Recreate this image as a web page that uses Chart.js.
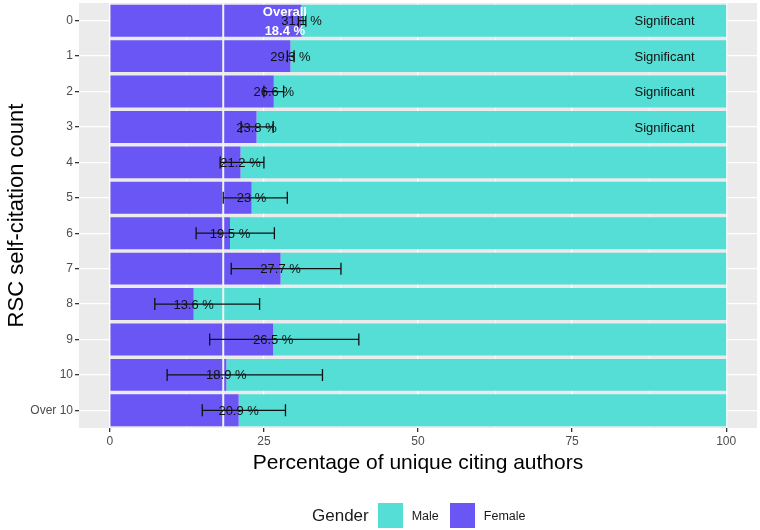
<!DOCTYPE html>
<html>
<head>
<meta charset="utf-8">
<script src="https://cdn.jsdelivr.net/npm/chart.js@4"></script>
<style>
  body { margin: 0; background: #fff; font-family: "Liberation Sans", Arial, sans-serif; }
  #wrap { position: relative; width: 760px; height: 530px; }
  #legend { position: absolute; left: 312px; top: 503px; display: flex; align-items: center; color: #1a1a1a; }
  #legend .ttl { font-size: 17px; margin-right: 9px; }
  #legend .sw { width: 25px; height: 25px; margin-right: 9px; }
  #legend .lb { font-size: 12.5px; margin-right: 11px; }
</style>
</head>
<body>
<div id="wrap">
  <canvas id="chart" width="760" height="530"></canvas>
  <div id="legend"></div>
</div>
<script>
// categories (RSC self-citation count)
const categories = ['0', '1', '2', '3', '4', '5', '6', '7', '8', '9', '10', 'Over 10'];
// % female among unique citing authors
const femalePct = [31.1, 29.3, 26.6, 23.8, 21.2, 23, 19.5, 27.7, 13.6, 26.5, 18.9, 20.9];
// % male among unique citing authors
const malePct = [68.9, 70.7, 73.4, 76.2, 78.8, 77, 80.5, 72.3, 86.4, 73.5, 81.1, 79.1];
// confidence interval for female share
const ciLow = [30.6, 28.8, 25.0, 21.3, 17.9, 18.4, 14.0, 19.7, 7.3, 16.2, 9.3, 15.0];
const ciHigh = [31.8, 29.9, 28.2, 26.5, 25.0, 28.8, 26.7, 37.5, 24.3, 40.4, 34.5, 28.5];
const significance = ['Significant', 'Significant', 'Significant', 'Significant', '', '', '', '', '', '', '', ''];
const overallFemale = 18.4;
const xTicks = [0, 25, 50, 75, 100];

const femaleColor = '#6a56f4';
const maleColor = '#55ded5';

// legend (male first, like the original)
const legendEl = document.getElementById('legend');
legendEl.innerHTML =
  '<span class="ttl">Gender</span>' +
  '<span class="sw" style="background:' + maleColor + '"></span><span class="lb">Male</span>' +
  '<span class="sw" style="background:' + femaleColor + '"></span><span class="lb">Female</span>';

const gridVals = [];
for (let i = 0; i < xTicks.length; i++) {
  gridVals.push(xTicks[i]);
  if (i < xTicks.length - 1) gridVals.push((xTicks[i] + xTicks[i + 1]) / 2);
}

const panelBg = {
  id: 'panelBg',
  beforeDraw(chart) {
    const { ctx, chartArea: a } = chart;
    ctx.save();
    ctx.fillStyle = '#ebebeb';
    ctx.fillRect(a.left, a.top, a.right - a.left, a.bottom - a.top);
    ctx.restore();
  }
};

const overlays = {
  id: 'overlays',
  afterDatasetsDraw(chart) {
    const { ctx, chartArea: a } = chart;
    const x = chart.scales.x, y = chart.scales.y;
    ctx.save();
    // overall line
    const ox = x.getPixelForValue(overallFemale);
    ctx.strokeStyle = '#f2f2f2';
    ctx.lineWidth = 2;
    ctx.beginPath();
    ctx.moveTo(ox, a.top);
    ctx.lineTo(ox, a.bottom);
    ctx.stroke();

    const font = '"Liberation Sans", Arial, sans-serif';
    ctx.textAlign = 'center';
    ctx.textBaseline = 'middle';
    for (let i = 0; i < categories.length; i++) {
      const cy = y.getPixelForValue(i);
      const x1 = x.getPixelForValue(ciLow[i]);
      const x2 = x.getPixelForValue(ciHigh[i]);
      // value label
      ctx.fillStyle = '#111';
      ctx.font = '13px ' + font;
      ctx.fillText(femalePct[i] + ' %', x.getPixelForValue(femalePct[i]), cy + 1);
      // error bar
      ctx.strokeStyle = '#111';
      ctx.lineWidth = 1.3;
      ctx.beginPath();
      ctx.moveTo(x1, cy); ctx.lineTo(x2, cy);
      ctx.moveTo(x1, cy - 6); ctx.lineTo(x1, cy + 6);
      ctx.moveTo(x2, cy - 6); ctx.lineTo(x2, cy + 6);
      ctx.stroke();
      if (significance[i]) {
        ctx.fillText(significance[i], x.getPixelForValue(90), cy + 1);
      }
    }
    // overall annotation
    const tx = x.getPixelForValue(overallFemale + 10);
    const c0 = y.getPixelForValue(0);
    ctx.fillStyle = '#ffffff';
    ctx.font = 'bold 13px ' + font;
    ctx.fillText('Overall', tx, c0 - 8);
    ctx.fillText(overallFemale + ' %', tx, c0 + 11);
    ctx.restore();
  }
};

new Chart(document.getElementById('chart'), {
  type: 'bar',
  data: {
    labels: categories,
    datasets: [
      { label: 'Female', data: femalePct, backgroundColor: femaleColor, borderWidth: 0, barPercentage: 0.9, categoryPercentage: 1 },
      { label: 'Male', data: malePct, backgroundColor: maleColor, borderWidth: 0, barPercentage: 0.9, categoryPercentage: 1 }
    ]
  },
  options: {
    indexAxis: 'y',
    responsive: false,
    animation: false,
    layout: { padding: { top: 3, right: 3, left: 0, bottom: 50 } },
    plugins: { legend: { display: false }, tooltip: { enabled: false } },
    scales: {
      x: {
        type: 'linear',
        stacked: true,
        min: -5,
        max: 105,
        afterBuildTicks(scale) { scale.ticks = gridVals.map(v => ({ value: v })); },
        afterFit(scale) { scale.height = 52; },
        border: { display: false },
        grid: {
          color: '#ffffff',
          lineWidth: c => xTicks.includes(c.tick.value) ? 1.3 : 0.6,
          tickColor: c => xTicks.includes(c.tick.value) ? '#333333' : 'rgba(0,0,0,0)',
          tickLength: 4
        },
        ticks: {
          autoSkip: false,
          maxRotation: 0,
          padding: 2,
          color: '#4d4d4d',
          font: { family: '"Liberation Sans", Arial, sans-serif', size: 12 },
          callback: v => xTicks.includes(v) ? String(v) : ''
        },
        title: {
          display: true,
          text: 'Percentage of unique citing authors',
          color: '#000',
          font: { family: '"Liberation Sans", Arial, sans-serif', size: 21 },
          padding: { top: 4, bottom: 4 }
        }
      },
      y: {
        type: 'category',
        stacked: true,
        afterFit(scale) { scale.width = 79; scale.paddingTop = 0; scale.paddingBottom = 0; },
        border: { display: false },
        grid: { offset: false, color: '#ffffff', lineWidth: 1.3, tickColor: '#333333', tickLength: 4 },
        ticks: {
          padding: 2,
          color: '#4d4d4d',
          font: { family: '"Liberation Sans", Arial, sans-serif', size: 12 }
        },
        title: {
          display: true,
          text: 'RSC self-citation count',
          color: '#000',
          font: { family: '"Liberation Sans", Arial, sans-serif', size: 22 },
          padding: { top: 4, bottom: 0 }
        }
      }
    }
  },
  plugins: [panelBg, overlays]
});
</script>
</body>
</html>
